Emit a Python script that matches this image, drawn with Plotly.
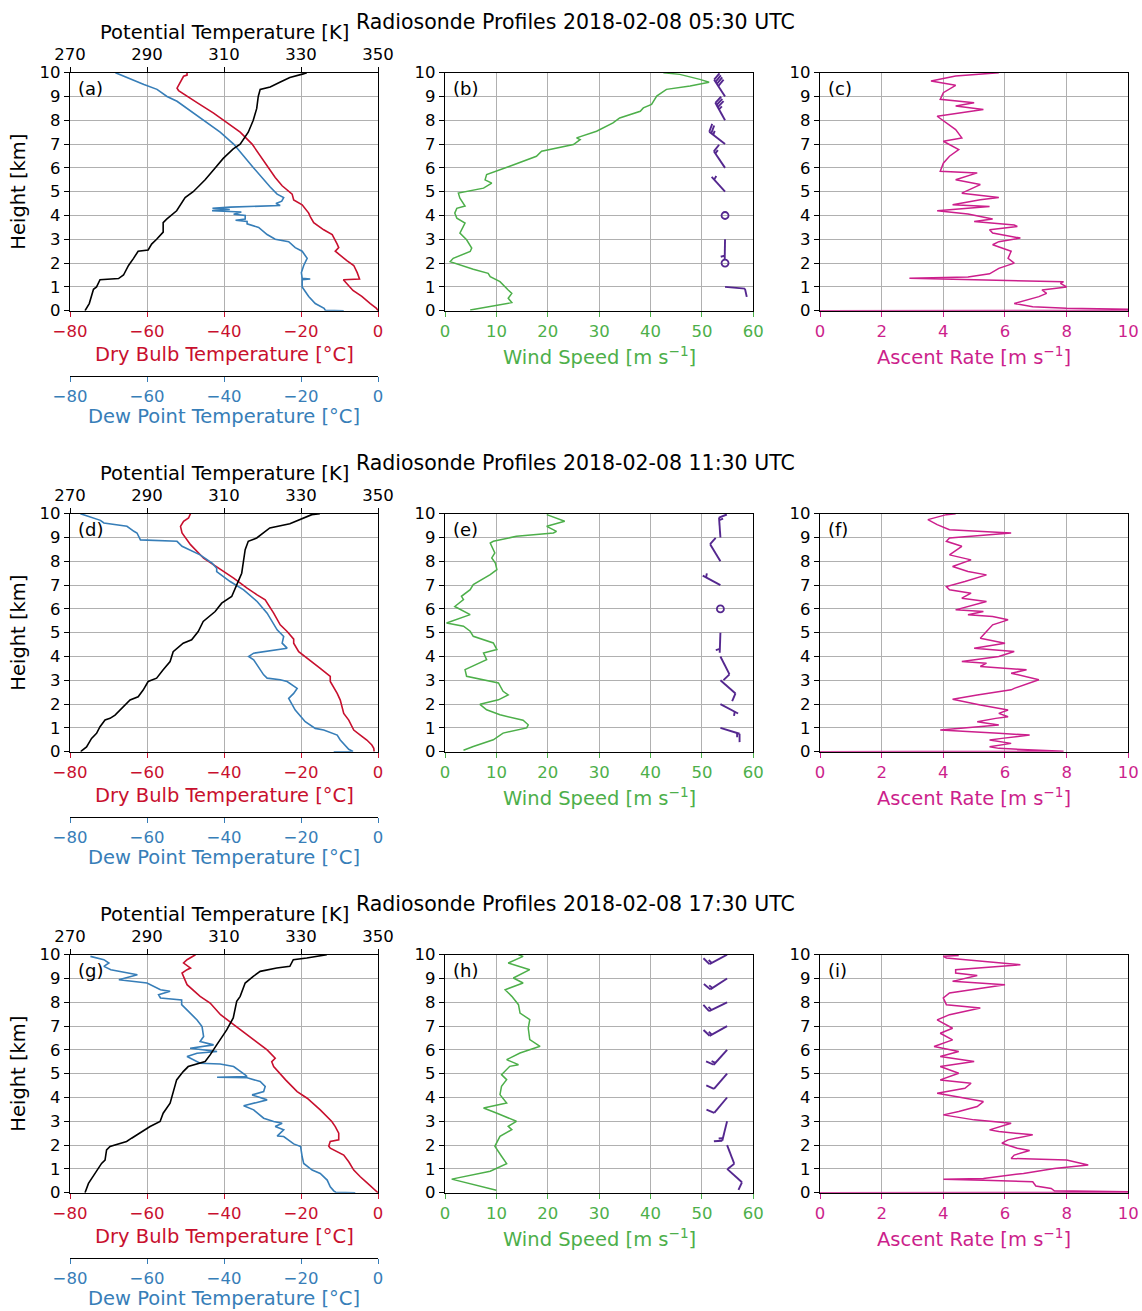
import numpy as np
import plotly.graph_objects as go

W, H = 1142, 1311
FONT = "DejaVu Sans"
RED = "#c8102e"
BLUE = "#377eb8"
GREEN = "#4daf4a"
MAGENTA = "#cc1f8c"
PURPLE = "#54278f"
GRID = "#b0b0b0"

# ------------------------------------------------------------------ data
titles = ["Radiosonde Profiles 2018-02-08 05:30 UTC",
          "Radiosonde Profiles 2018-02-08 11:30 UTC",
          "Radiosonde Profiles 2018-02-08 17:30 UTC"]
letters = [["(a)", "(b)", "(c)"], ["(d)", "(e)", "(f)"], ["(g)", "(h)", "(i)"]]
height_ticks = list(range(0, 11))
temp_ticks = [-80, -60, -40, -20, 0]
theta_ticks = [270, 290, 310, 330, 350]
wind_ticks = [0, 10, 20, 30, 40, 50, 60]
ascent_ticks = [0, 2, 4, 6, 8, 10]

# ---- 05:30 UTC
t1_h = [0.0, 0.1, 0.3, 0.6, 0.85, 1.0, 1.15, 1.3, 1.33, 1.6, 1.9, 2.1, 2.5, 2.65, 2.8, 3.2, 3.4, 3.7, 3.95, 4.1,
        4.45, 4.65, 4.9, 5.25, 5.6, 6.0, 6.3, 6.7, 7.0, 7.5, 7.9, 8.3, 8.7, 9.25, 9.35, 9.6, 9.7, 9.85, 9.9, 10.0]
t1_T = [0.0, -0.4, -2.0, -4.2, -6.5, -7.4, -8.1, -9.0, -4.8, -5.4, -6.3, -8.1, -11.1, -10.2, -10.6, -11.9, -14.1,
        -16.7, -17.6, -18.0, -19.7, -21.9, -22.3, -24.9, -26.7, -28.4, -29.7, -31.4, -32.7, -35.8, -39.2, -42.7,
        -46.6, -51.8, -52.2, -51.3, -50.9, -50.5, -49.6, -49.6]
td1_h = [0.0, 0.02, 0.1, 0.3, 0.6, 1.0, 1.3, 1.33, 1.36, 1.6, 1.9, 2.2, 2.5, 2.65, 2.9, 3.0, 3.2, 3.5, 3.65, 3.75,
         3.8, 3.85, 4.0, 4.05, 4.15, 4.2, 4.25, 4.3, 4.35, 4.42, 4.5, 4.6, 4.75, 4.9, 5.2, 5.5, 6.0, 6.5, 7.0, 7.5,
         8.0, 8.4, 8.8, 9.0, 9.3, 9.5, 9.8, 10.0]
td1_T = [-8.9, -13.7, -14.0, -16.3, -18.0, -19.7, -19.7, -17.6, -19.7, -19.9, -19.3, -18.4, -19.7, -21.5, -23.2,
         -26.7, -28.8, -31.0, -34.0, -34.0, -37.0, -34.5, -34.5, -37.5, -35.5, -43.1, -38.5, -43.0, -38.4, -25.4,
         -26.5, -25.0, -24.5, -26.2, -28.0, -29.7, -32.3, -34.9, -37.5, -41.0, -45.3, -48.8, -52.2, -54.8, -57.4,
         -60.8, -65.2, -68.2]
th1_h = [0.0, 0.1, 0.3, 0.9, 1.0, 1.3, 1.35, 1.5, 1.9, 2.2, 2.5, 2.55, 2.8, 3.0, 3.3, 3.7, 3.85, 4.2, 4.5, 4.75,
         5.0, 5.5, 6.0, 6.4, 6.8, 7.0, 7.5, 8.0, 8.5, 9.0, 9.3, 9.4, 9.6, 9.8, 9.95, 10.0]
th1_K = [273.9, 274.2, 275.0, 276.1, 276.9, 277.8, 282.6, 283.9, 285.2, 286.5, 287.7, 290.3, 291.2, 292.5, 294.2,
         294.2, 295.1, 297.7, 299.0, 299.9, 302.0, 305.1, 307.7, 309.8, 312.4, 314.2, 316.3, 317.6, 318.5, 318.9,
         319.4, 322.0, 324.5, 327.1, 330.6, 331.5]
ws1_h = [0.03, 0.2, 0.34, 0.52, 0.73, 0.87, 1.22, 1.43, 1.57, 1.74, 1.92, 2.06, 2.2, 2.49, 2.63, 2.98, 3.26, 3.68,
         3.89, 4.1, 4.3, 4.4, 4.73, 4.94, 5.15, 5.36, 5.5, 5.72, 6.07, 6.49, 6.7, 6.98, 7.19, 7.26, 7.54, 7.68, 7.89,
         8.1, 8.38, 8.52, 8.67, 9.02, 9.16, 9.3, 9.44, 9.6, 9.72, 9.93, 10.0]
ws1_v = [4.9, 9.7, 13.0, 12.3, 13.0, 12.3, 10.7, 8.8, 8.4, 5.5, 2.9, 1.0, 1.6, 4.9, 5.2, 4.2, 2.9, 3.9, 2.3, 1.9,
         2.3, 3.9, 2.9, 2.6, 7.5, 9.1, 7.8, 8.1, 12.6, 17.8, 18.8, 25.0, 26.3, 25.6, 29.5, 30.8, 32.7, 34.0, 38.0,
         38.6, 40.2, 41.2, 42.2, 43.1, 47.7, 51.4, 49.6, 45.7, 42.5]
ar1_h = [0.0, 0.02, 0.1, 0.17, 0.3, 0.59, 0.73, 0.87, 1.0, 1.15, 1.22, 1.36, 1.42, 1.55, 1.78, 2.0, 2.2, 2.5, 2.77,
         2.9, 3.05, 3.26, 3.4, 3.54, 3.6, 3.68, 3.75, 3.85, 4.06, 4.2, 4.38, 4.45, 4.66, 4.76, 4.94, 5.3, 5.5, 5.79,
         5.86, 6.2, 6.49, 6.77, 7.12, 7.26, 7.61, 8.17, 8.45, 8.6, 8.74, 8.88, 9.16, 9.47, 9.65, 9.86, 10.0]
ar1_v = [0.0, 12.0, 8.0, 6.9, 6.3, 7.1, 7.35, 7.2, 8.0, 7.8, 7.9, 2.9, 4.8, 5.5, 5.8, 6.3, 6.1, 6.2, 5.6, 5.8, 6.5,
         5.6, 5.5, 6.4, 6.3, 5.6, 5.0, 5.6, 4.8, 3.8, 5.5, 4.3, 5.2, 5.8, 4.6, 5.2, 4.4, 5.1, 3.9, 4.0, 4.2, 4.5,
         4.0, 4.6, 4.4, 3.8, 5.3, 4.4, 5.0, 3.9, 4.0, 4.4, 3.6, 4.4, 5.8]
barb1_x = 54.5
barb1_h = [1, 2, 3, 4, 5, 6, 7, 8, 9, 10]
barb1_spd = [12, 1, 4, 1.5, 5, 13, 25, 34, 41, 42]
barb1_dir = [95, 0, 181, 0, 318, 326, 308, 331, 327, 330]

# ---- 11:30 UTC
t2_h = [0.0, 0.14, 0.28, 0.49, 0.7, 0.91, 1.33, 1.61, 2.17, 2.45, 2.95, 3.16, 3.5, 3.93, 4.2, 4.56, 4.73, 5.05,
        5.33, 5.82, 6.38, 6.59, 6.87, 7.29, 7.64, 8.13, 8.7, 8.9, 9.19, 9.47, 9.68, 9.82, 10.0]
t2_T = [-1.0, -1.1, -1.6, -2.9, -4.6, -6.3, -7.6, -8.9, -9.8, -10.6, -12.4, -12.4, -15.0, -18.4, -20.6, -21.9,
        -21.9, -23.6, -25.4, -27.1, -29.3, -31.4, -34.0, -37.5, -40.9, -45.3, -48.7, -49.6, -50.9, -51.3, -50.5,
        -49.2, -48.7]
td2_h = [0.0, 0.01, 0.1, 0.49, 0.7, 0.91, 0.98, 1.26, 1.75, 2.1, 2.24, 2.45, 2.66, 2.95, 3.02, 3.09, 3.23, 3.86,
         4.0, 4.14, 4.28, 4.35, 4.56, 4.84, 5.12, 5.82, 6.31, 6.8, 7.15, 7.57, 7.71, 7.92, 8.27, 8.63, 8.84, 8.9,
         9.19, 9.26, 9.47, 9.61, 9.72, 10.0]
td2_T = [-11.5, -6.5, -7.6, -9.8, -10.6, -14.1, -16.3, -18.9, -21.5, -22.8, -23.2, -21.9, -21.0, -23.6, -25.4,
         -28.8, -29.7, -32.3, -33.6, -32.3, -26.2, -23.6, -24.9, -24.5, -26.2, -28.8, -31.4, -34.9, -38.4, -41.9,
         -41.9, -43.1, -46.2, -50.9, -52.2, -61.7, -62.6, -63.4, -65.2, -71.2, -72.1, -77.3]
th2_h = [0.0, 0.04, 0.2, 0.56, 0.77, 1.05, 1.33, 1.4, 1.54, 1.89, 2.17, 2.31, 2.59, 2.95, 3.09, 3.44, 3.79, 4.2,
         4.56, 4.7, 5.05, 5.47, 5.89, 6.24, 6.52, 7.01, 7.5, 8.49, 8.84, 8.98, 9.19, 9.4, 9.58, 9.75, 9.96, 10.0]
th2_K = [272.8, 273.0, 274.3, 275.6, 276.9, 277.8, 279.1, 280.4, 281.7, 283.9, 285.6, 287.7, 289.0, 290.3, 292.5,
         294.2, 296.0, 296.8, 299.4, 301.6, 303.3, 304.6, 307.7, 309.4, 312.0, 313.3, 314.6, 315.5, 316.3, 318.5,
         320.2, 321.9, 327.1, 329.7, 332.8, 334.9]
ws2_h = [0.06, 0.22, 0.5, 0.78, 1.0, 1.13, 1.32, 1.55, 1.76, 1.99, 2.18, 2.39, 2.54, 2.89, 3.17, 3.45, 3.87, 4.15,
         4.29, 4.57, 4.85, 5.06, 5.27, 5.41, 5.76, 6.1, 6.39, 6.53, 6.81, 7.02, 7.44, 7.65, 7.93, 8.14, 8.35, 8.77,
         8.84, 9.05, 9.19, 9.26, 9.47, 9.68, 9.96]
ws2_v = [3.6, 5.5, 9.4, 11.3, 15.9, 16.2, 15.2, 10.7, 8.1, 6.8, 10.4, 12.3, 11.3, 10.4, 4.2, 3.9, 8.1, 7.5, 10.1,
         9.4, 5.5, 4.9, 3.6, 0.3, 4.9, 1.9, 3.6, 3.2, 4.9, 5.5, 8.8, 10.1, 9.8, 9.1, 9.7, 8.8, 9.4, 13.9, 21.1, 21.7,
         19.8, 23.3, 19.8]
ar2_h = [0.0, 0.02, 0.14, 0.21, 0.35, 0.49, 0.56, 0.7, 0.77, 0.91, 1.12, 1.26, 1.4, 1.47, 1.61, 1.75, 1.96, 2.2,
         2.38, 2.6, 2.66, 3.02, 3.3, 3.44, 3.58, 3.72, 3.79, 4.0, 4.21, 4.35, 4.56, 4.77, 5.05, 5.33, 5.54, 5.68,
         5.75, 5.89, 5.96, 6.31, 6.45, 6.66, 6.8, 6.94, 7.15, 7.43, 7.57, 7.78, 8.06, 8.27, 8.63, 8.84, 8.98, 9.19,
         9.33, 9.54, 9.75, 9.96, 10.0]
ar2_v = [0.0, 7.9, 5.8, 5.5, 6.2, 5.5, 5.9, 6.8, 5.8, 3.9, 5.8, 5.1, 5.7, 6.1, 5.8, 6.1, 5.2, 4.3, 5.1, 6.2, 6.3,
         7.1, 6.2, 6.7, 5.2, 5.4, 4.6, 5.8, 6.3, 5.0, 6.0, 5.2, 5.4, 5.6, 6.1, 5.6, 4.8, 5.3, 4.4, 5.4, 4.6, 4.9,
         4.2, 4.1, 4.7, 5.4, 4.8, 4.3, 4.9, 4.2, 4.6, 4.1, 4.2, 6.2, 4.2, 3.8, 3.5, 4.1, 4.4]
barb2_x = 53.6
barb2_h = [1, 2, 3, 4, 5, 6, 7, 8, 9, 10]
barb2_spd = [16, 7, 8, 8, 5, 1.9, 5.5, 9.7, 14, 20]
barb2_dir = [107, 118, 131, 153, 182, 0, 298, 329, 356, 0]

# ---- 17:30 UTC
t3_h = [0.0, 0.04, 0.42, 0.67, 0.95, 1.3, 1.58, 1.87, 1.96, 2.15, 2.22, 2.5, 2.78, 2.99, 3.48, 3.97, 4.25, 4.74,
        5.09, 5.3, 5.5, 5.65, 6.0, 6.42, 7.05, 7.48, 7.97, 8.25, 8.74, 9.23, 9.37, 9.44, 9.65, 9.79, 10.0]
t3_T = [0.0, -0.3, -2.9, -4.6, -6.3, -7.6, -8.9, -12.4, -12.8, -12.4, -10.2, -10.2, -11.1, -12.0, -15.0, -18.4,
        -21.0, -24.0, -25.8, -27.1, -27.6, -26.7, -28.8, -32.3, -37.5, -40.9, -43.6, -46.2, -49.6, -50.9, -49.6,
        -48.7, -50.5, -49.6, -47.4]
td3_h = [0.0, 0.02, 0.08, 0.25, 0.53, 0.81, 0.95, 1.23, 1.51, 1.94, 2.05, 2.36, 2.38, 2.64, 2.78, 2.92, 2.99, 3.13,
         3.48, 3.65, 3.9, 4.11, 4.25, 4.46, 4.67, 4.83, 4.85, 4.88, 4.95, 5.3, 5.41, 5.44, 5.72, 5.86, 5.93, 6.07,
         6.21, 6.35, 6.56, 6.98, 7.26, 7.55, 7.9, 8.1, 8.18, 8.32, 8.46, 8.53, 8.81, 8.95, 9.16, 9.37, 9.51, 9.65,
         9.79, 9.93]
td3_T = [-5.9, -11.0, -11.5, -12.4, -13.2, -15.0, -17.1, -19.3, -19.7, -20.1, -21.9, -24.5, -26.2, -24.5, -26.7,
         -24.9, -27.1, -29.7, -32.3, -34.9, -28.8, -32.7, -29.7, -29.3, -30.6, -34.0, -41.8, -34.0, -34.5, -37.5,
         -41.0, -46.2, -49.6, -47.0, -41.8, -48.8, -42.7, -46.2, -45.3, -45.7, -47.0, -48.8, -51.0, -51.0, -56.5,
         -57.0, -54.0, -56.5, -60.0, -67.3, -62.5, -69.4, -71.2, -69.9, -71.2, -74.7]
th3_h = [0.0, 0.39, 0.81, 1.23, 1.37, 1.8, 1.94, 2.15, 2.29, 2.5, 2.78, 2.99, 3.34, 3.76, 4.18, 4.74, 5.09, 5.3,
         5.51, 5.79, 6.21, 6.84, 7.34, 8.04, 8.25, 8.81, 9.09, 9.3, 9.44, 9.51, 9.79, 9.86, 10.0]
th3_K = [273.9, 274.8, 276.5, 278.2, 279.1, 279.5, 280.4, 284.7, 286.0, 288.2, 290.8, 293.4, 294.2, 296.0, 296.8,
         297.7, 299.4, 300.7, 305.1, 306.4, 308.1, 310.7, 312.4, 313.3, 314.2, 315.5, 317.6, 319.4, 323.7, 327.1,
         328.0, 331.5, 336.7]
ws3_h = [0.1, 0.27, 0.57, 0.9, 1.22, 1.53, 1.95, 2.37, 2.65, 2.79, 3.0, 3.35, 3.56, 3.77, 4.12, 4.47, 4.75, 4.96,
         5.31, 5.38, 5.59, 5.87, 6.15, 6.43, 6.92, 7.27, 7.55, 7.9, 8.25, 8.53, 8.81, 9.02, 9.37, 9.65, 9.93, 10.0]
ws3_v = [10.0, 6.8, 1.3, 8.8, 12.0, 11.0, 9.7, 10.7, 13.0, 12.3, 13.9, 10.0, 7.5, 12.0, 10.7, 11.0, 12.0, 11.0,
         12.6, 14.3, 12.0, 14.6, 18.5, 16.5, 16.2, 16.5, 14.6, 14.3, 13.0, 11.7, 15.2, 13.3, 16.5, 12.3, 15.2, 14.3]
ar3_h = [0.0, 0.01, 0.08, 0.18, 0.28, 0.46, 0.52, 0.56, 0.6, 0.81, 1.02, 1.16, 1.37, 1.44, 1.58, 1.77, 1.87, 2.08,
         2.22, 2.43, 2.57, 2.64, 2.92, 3.06, 3.27, 3.41, 3.62, 3.83, 4.04, 4.18, 4.39, 4.6, 4.74, 5.02, 5.3, 5.51,
         5.72, 5.93, 6.14, 6.42, 6.7, 6.91, 7.26, 7.48, 7.76, 7.9, 8.18, 8.39, 8.74, 8.88, 9.13, 9.23, 9.37, 9.58,
         9.86, 9.93, 9.97]
ar3_v = [0.0, 12.0, 7.6, 7.5, 7.0, 6.9, 5.3, 4.0, 5.3, 6.6, 7.6, 8.7, 8.0, 6.2, 6.3, 6.8, 6.4, 5.9, 6.1, 6.9, 5.8,
         5.5, 6.2, 5.0, 4.0, 4.5, 5.1, 5.3, 4.4, 3.8, 4.7, 4.9, 3.9, 4.5, 3.9, 5.0, 3.9, 4.5, 3.7, 4.3, 3.9, 4.3,
         3.8, 4.2, 5.2, 4.1, 4.0, 4.2, 6.0, 4.3, 5.1, 4.4, 4.4, 6.5, 4.1, 4.0, 4.5]
barb3_x = 54.9
barb3_h = [1, 2, 3, 4, 5, 6, 7, 8, 9, 10]
barb3_spd = [12, 10, 14, 11, 12, 17, 16, 13, 14, 15]
barb3_dir = [132, 159, 194, 220, 221, 222, 241, 244, 237, 242]

rows = [
    dict(t_h=t1_h, t_T=t1_T, td_h=td1_h, td_T=td1_T, th_h=th1_h, th_K=th1_K, ws_h=ws1_h, ws_v=ws1_v,
         ar_h=ar1_h, ar_v=ar1_v, bx=barb1_x, bh=barb1_h, bs=barb1_spd, bd=barb1_dir),
    dict(t_h=t2_h, t_T=t2_T, td_h=td2_h, td_T=td2_T, th_h=th2_h, th_K=th2_K, ws_h=ws2_h, ws_v=ws2_v,
         ar_h=ar2_h, ar_v=ar2_v, bx=barb2_x, bh=barb2_h, bs=barb2_spd, bd=barb2_dir),
    dict(t_h=t3_h, t_T=t3_T, td_h=td3_h, td_T=td3_T, th_h=th3_h, th_K=th3_K, ws_h=ws3_h, ws_v=ws3_v,
         ar_h=ar3_h, ar_v=ar3_v, bx=barb3_x, bh=barb3_h, bs=barb3_spd, bd=barb3_dir),
]

# ------------------------------------------------------------------ layout geometry (pixels)
COLS = [(70.0, 378.0), (445.0, 753.3), (820.0, 1128.3)]
ROW_TOP = [72.7, 513.7, 954.7]
ROW_H = 238.0
DEW_AXIS_OFF = 65.0   # dew point axis below plot bottom


def fx(p):
    return p / W


def fy(p):
    return 1 - p / H


fig = go.Figure()
layout = dict(width=W, height=H, margin=dict(l=0, r=0, t=0, b=0, pad=0, autoexpand=False), showlegend=False,
              plot_bgcolor="white", paper_bgcolor="white", font=dict(family=FONT, size=16.5, color="black"))
annotations = []

TICKFONT = 16.5
LABELFONT = 19.5
AX_COMMON = dict(showline=True, linecolor="black", linewidth=1.3, ticks="outside", ticklen=5, tickwidth=1.2,
                 zeroline=False, automargin=False)


def aname(kind, n):
    return f"{kind}axis" if n == 1 else f"{kind}axis{n}"


def aref(kind, n):
    return kind if n == 1 else f"{kind}{n}"


# Barb drawing parameters (pixels)
BL, BHT, BWD, BSP = 20.0, 0.4, 0.25, 0.125


def barb_paths(x0, hs, spds, dirs, sx, sy):
    lx, ly, fxs, fys, cx, cy = [], [], [], [], [], []
    for h0, spd, d in zip(hs, spds, dirs):
        mag = 5 * np.round(spd / 5.0)
        if mag < 5:
            cx.append(x0)
            cy.append(h0)
            continue
        nflag = int(mag // 50)
        rem = mag - 50 * nflag
        nbarb = int(rem // 10)
        half = (rem - 10 * nbarb) >= 5
        th = np.deg2rad(d)
        s = np.array([np.sin(th), np.cos(th)])
        p = np.array([np.cos(th), -np.sin(th)])
        Hh, Ww, Sp = BHT * BL, BWD * BL, BSP * BL

        def pt(v):
            return x0 + v[0] / sx, h0 + v[1] / sy

        def seg(a, b):
            for v in (a, b):
                X, Y = pt(v)
                lx.append(X)
                ly.append(Y)
            lx.append(None)
            ly.append(None)

        seg(np.zeros(2), BL * s)
        off = BL
        for _ in range(nflag):
            if off != BL:
                off += Sp / 2
            tri = [off * s, off * s + Hh * p - Ww / 2 * s, (off - Ww) * s, off * s]
            for v in tri:
                X, Y = pt(v)
                fxs.append(X)
                fys.append(Y)
            fxs.append(None)
            fys.append(None)
            off -= Ww + Sp
        for _ in range(nbarb):
            seg(off * s, off * s + Hh * p + Ww / 2 * s)
            off -= Sp
        if half:
            if off == BL:
                off -= 1.5 * Sp
            seg(off * s, off * s + Hh / 2 * p + Ww / 4 * s)
    return lx, ly, fxs, fys, cx, cy


for r, R in enumerate(rows):
    top = ROW_TOP[r]
    bot = top + ROW_H
    ydom = [fy(bot), fy(top)]
    nT, nTd, nTh, nW, nA = 5 * r + 1, 5 * r + 2, 5 * r + 3, 5 * r + 4, 5 * r + 5
    yA, yB, yC = 3 * r + 1, 3 * r + 2, 3 * r + 3

    for c, (ny, nx) in enumerate([(yA, nT), (yB, nW), (yC, nA)]):
        layout[aname("y", ny)] = dict(AX_COMMON, domain=ydom, anchor=aref("x", nx), range=[0, 10],
                                      tickvals=height_ticks, showgrid=True, gridcolor=GRID, gridwidth=1,
                                      mirror=True, tickfont=dict(size=TICKFONT, color="black"),
                                      tickcolor="black")

    xa = [fx(COLS[0][0]), fx(COLS[0][1])]
    xb = [fx(COLS[1][0]), fx(COLS[1][1])]
    xc = [fx(COLS[2][0]), fx(COLS[2][1])]
    layout[aname("x", nT)] = dict(AX_COMMON, domain=xa, anchor=aref("y", yA), range=[-80, 0], tickvals=temp_ticks,
                                  showgrid=True, gridcolor=GRID, gridwidth=1, mirror=True,
                                  tickcolor=RED, tickfont=dict(size=TICKFONT, color=RED))
    layout[aname("x", nTd)] = dict(AX_COMMON, domain=xa, anchor="free", position=fy(bot + DEW_AXIS_OFF),
                                   overlaying=aref("x", nT), side="bottom", range=[-80, 0], tickvals=temp_ticks,
                                   showgrid=False, tickcolor=BLUE, tickfont=dict(size=TICKFONT, color=BLUE))
    layout[aname("x", nTh)] = dict(AX_COMMON, domain=xa, anchor=aref("y", yA), overlaying=aref("x", nT),
                                   side="top", range=[270, 350], tickvals=theta_ticks, showgrid=False,
                                   tickcolor="black", tickfont=dict(size=TICKFONT, color="black"))
    layout[aname("x", nW)] = dict(AX_COMMON, domain=xb, anchor=aref("y", yB), range=[0, 60], tickvals=wind_ticks,
                                  showgrid=True, gridcolor=GRID, gridwidth=1, mirror=True,
                                  tickcolor=GREEN, tickfont=dict(size=TICKFONT, color=GREEN))
    layout[aname("x", nA)] = dict(AX_COMMON, domain=xc, anchor=aref("y", yC), range=[0, 10],
                                  tickvals=ascent_ticks, showgrid=True, gridcolor=GRID, gridwidth=1, mirror=True,
                                  tickcolor=MAGENTA, tickfont=dict(size=TICKFONT, color=MAGENTA))

    # ---- traces panel a
    fig.add_trace(go.Scatter(x=R["t_T"], y=R["t_h"], mode="lines", line=dict(color=RED, width=1.6),
                             xaxis=aref("x", nT), yaxis=aref("y", yA)))
    fig.add_trace(go.Scatter(x=R["td_T"], y=R["td_h"], mode="lines", line=dict(color=BLUE, width=1.6),
                             xaxis=aref("x", nTd), yaxis=aref("y", yA)))
    fig.add_trace(go.Scatter(x=R["th_K"], y=R["th_h"], mode="lines", line=dict(color="black", width=1.6),
                             xaxis=aref("x", nTh), yaxis=aref("y", yA)))
    # ---- panel b
    fig.add_trace(go.Scatter(x=R["ws_v"], y=R["ws_h"], mode="lines", line=dict(color=GREEN, width=1.5),
                             xaxis=aref("x", nW), yaxis=aref("y", yB)))
    sx = (COLS[1][1] - COLS[1][0]) / 60.0
    sy = ROW_H / 10.0
    lx, ly, fxx, fyy, cx, cy = barb_paths(R["bx"], R["bh"], R["bs"], R["bd"], sx, sy)
    fig.add_trace(go.Scatter(x=lx, y=ly, mode="lines", line=dict(color=PURPLE, width=1.9),
                             connectgaps=False, xaxis=aref("x", nW), yaxis=aref("y", yB)))
    if fxx:
        fig.add_trace(go.Scatter(x=fxx, y=fyy, mode="lines", fill="toself", fillcolor=PURPLE,
                                 line=dict(color=PURPLE, width=1.2), xaxis=aref("x", nW), yaxis=aref("y", yB)))
    if cx:
        fig.add_trace(go.Scatter(x=cx, y=cy, mode="markers",
                                 marker=dict(symbol="circle-open", size=7, color=PURPLE, line=dict(width=1.8)),
                                 xaxis=aref("x", nW), yaxis=aref("y", yB)))
    # ---- panel c
    fig.add_trace(go.Scatter(x=R["ar_v"], y=R["ar_h"], mode="lines", line=dict(color=MAGENTA, width=1.5),
                             xaxis=aref("x", nA), yaxis=aref("y", yC)))

    # ---- text
    annotations.append(dict(text=titles[r], x=fx(575), y=fy(top - 51), xref="paper", yref="paper",
                            showarrow=False, font=dict(size=20.5, color="black"), xanchor="center",
                            yanchor="middle"))
    annotations.append(dict(text="Potential Temperature [K]", x=fx(224), y=fy(top - 40), xref="paper",
                            yref="paper", showarrow=False, font=dict(size=LABELFONT, color="black"),
                            xanchor="center", yanchor="middle"))
    annotations.append(dict(text="Height [km]", x=fx(19), y=fy(top + ROW_H / 2), xref="paper", yref="paper",
                            showarrow=False, textangle=-90, font=dict(size=LABELFONT, color="black"),
                            xanchor="center", yanchor="middle"))
    annotations.append(dict(text="Dry Bulb Temperature [°C]", x=fx(224), y=fy(bot + 44), xref="paper",
                            yref="paper", showarrow=False, font=dict(size=LABELFONT, color=RED),
                            xanchor="center", yanchor="middle"))
    annotations.append(dict(text="Dew Point Temperature [°C]", x=fx(224), y=fy(bot + 106), xref="paper",
                            yref="paper", showarrow=False, font=dict(size=LABELFONT, color=BLUE),
                            xanchor="center", yanchor="middle"))
    annotations.append(dict(text="Wind Speed [m s<sup>−1</sup>]", x=fx(599), y=fy(bot + 45), xref="paper",
                            yref="paper", showarrow=False, font=dict(size=LABELFONT, color=GREEN),
                            xanchor="center", yanchor="middle"))
    annotations.append(dict(text="Ascent Rate [m s<sup>−1</sup>]", x=fx(974), y=fy(bot + 45), xref="paper",
                            yref="paper", showarrow=False, font=dict(size=LABELFONT, color=MAGENTA),
                            xanchor="center", yanchor="middle"))
    for c in range(3):
        annotations.append(dict(text=letters[r][c], x=fx(COLS[c][0] + 6), y=fy(top + 16), xref="paper",
                                yref="paper", showarrow=False, font=dict(size=18, color="black"),
                                xanchor="left", yanchor="middle"))

layout["annotations"] = annotations
fig.update_layout(**layout)
fig.write_html("out.html")
